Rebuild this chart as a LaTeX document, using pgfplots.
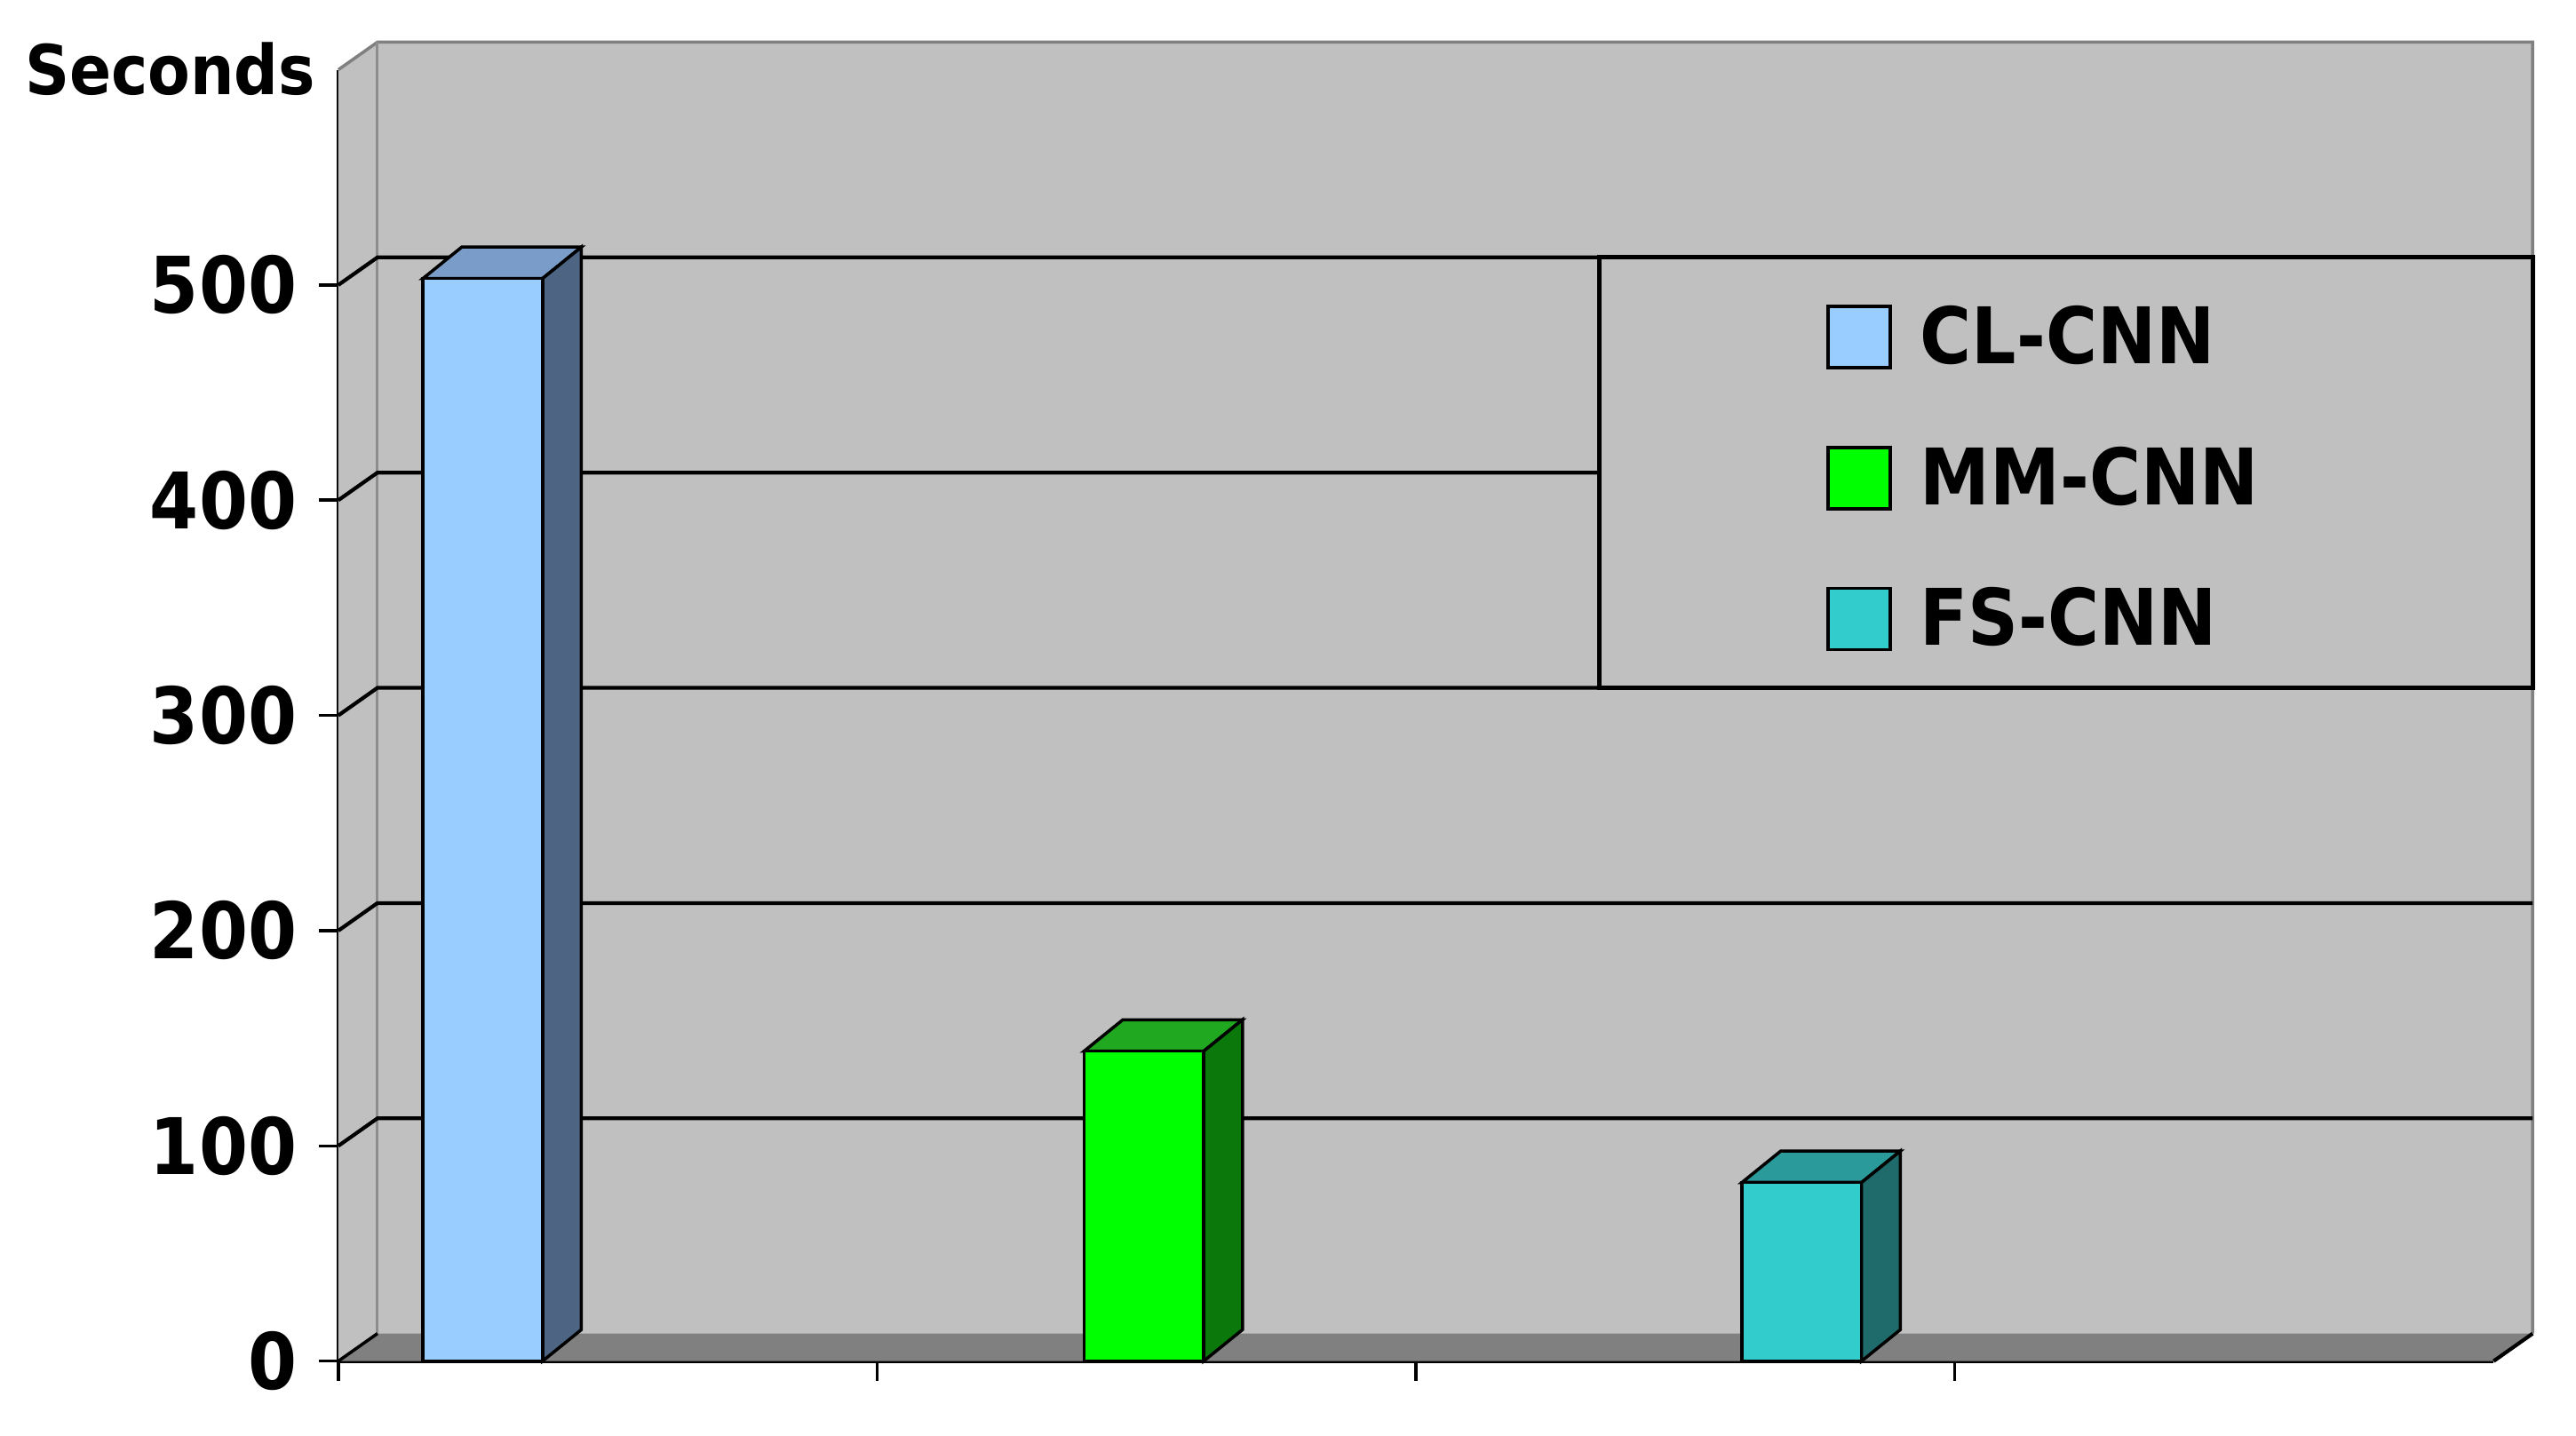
\documentclass[border=0pt]{standalone}
\usepackage{fontspec}
\setmainfont{DejaVu Sans}[FakeStretch=0.9]
\usepackage{pgfplots}
\pgfplotsset{compat=1.18}
\definecolor{wall}{HTML}{C0C0C0}
\definecolor{floorc}{HTML}{808080}
\definecolor{clfront}{HTML}{99CCFF}
\definecolor{cltop}{HTML}{7A9CC8}
\definecolor{clside}{HTML}{4D6482}
\definecolor{mmfront}{HTML}{00FF00}
\definecolor{mmtop}{HTML}{20A820}
\definecolor{mmside}{HTML}{0A780A}
\definecolor{fsfront}{HTML}{33CCCC}
\definecolor{fstop}{HTML}{2A9A9A}
\definecolor{fsside}{HTML}{1F6B6B}
\pgfplotsset{sqlegend/.style={legend image code/.code={\draw[##1,line width=0.5pt] (0mm,-1.6mm) rectangle (3.5mm,1.85mm);}}}
\begin{document}
\begin{tikzpicture}
\begin{axis}[
  scale only axis, width=12.13cm, height=7.27cm,
  xmin=0, xmax=4, ymin=0, ymax=600, clip=false,
  axis x line*=bottom, axis y line*=left,
  axis line style={black, line width=0.6pt},
  xtick={0,1,2,3}, xticklabels={},
  ytick={0,100,200,300,400,500},
  tick align=outside, major tick length=1.1mm,
  tick style={black, line width=0.5pt},
  yticklabel style={font=\fontsize{12.5}{15}\selectfont\bfseries},
  /pgf/number format/assume math mode=true,
  legend cell align=left,
  legend style={at={(axis cs:2.762,409.4)}, anchor=west, draw=none, fill=none,
    inner sep=0pt, outer sep=0pt, row sep=4.1mm, column sep=1.6mm,
    nodes={inner sep=0pt, outer sep=0pt, font=\fontsize{12.5}{15}\selectfont\bfseries}},
]
% walls
\fill[wall] (axis cs:0.0725,12.8) rectangle (axis cs:4.0725,612.8);
\fill[wall] (axis cs:0,0) -- (axis cs:0.0725,12.8) -- (axis cs:0.0725,612.8) -- (axis cs:0,600) -- cycle;
\draw[floorc, line width=0.5pt] (axis cs:0,600) -- (axis cs:0.0725,612.8) -- (axis cs:4.0725,612.8) -- (axis cs:4.0725,12.8);
\draw[floorc!80!wall, line width=0.4pt] (axis cs:0.0725,12.8) -- (axis cs:0.0725,612.8);
\fill[floorc] (axis cs:0,0) -- (axis cs:4,0) -- (axis cs:4.0725,12.8) -- (axis cs:0.0725,12.8) -- cycle;
\draw[black, line width=0.6pt] (axis cs:4,0) -- (axis cs:4.0725,12.8);
% gridlines
\draw[black, line width=0.6pt] (axis cs:0,100) -- (axis cs:0.0725,112.8) -- (axis cs:4.0725,112.8);
\draw[black, line width=0.6pt] (axis cs:0,200) -- (axis cs:0.0725,212.8) -- (axis cs:4.0725,212.8);
\draw[black, line width=0.6pt] (axis cs:0,300) -- (axis cs:0.0725,312.8) -- (axis cs:4.0725,312.8);
\draw[black, line width=0.6pt] (axis cs:0,400) -- (axis cs:0.0725,412.8) -- (axis cs:4.0725,412.8);
\draw[black, line width=0.6pt] (axis cs:0,500) -- (axis cs:0.0725,512.8) -- (axis cs:4.0725,512.8);
\draw[black, line width=0.5pt] (axis cs:0,0) -- (axis cs:0.0725,12.8);
% legend box
\filldraw[fill=wall, draw=black, line width=0.7pt] (axis cs:2.341,312.8) rectangle (axis cs:4.0725,512.8);

% CL-CNN
\addplot[fill=cltop, draw=black, line width=0.5pt, forget plot] coordinates {(0.157,503) (0.229,517.6) (0.451,517.6) (0.379,503)} -- cycle;
\addplot[fill=clside, draw=black, line width=0.5pt, forget plot] coordinates {(0.379,0) (0.451,14.6) (0.451,517.6) (0.379,503)} -- cycle;
\addplot[ybar, bar width=0.222, bar shift=0pt, fill=clfront, draw=black, line width=0.5pt, sqlegend] coordinates {(0.268,503)};
\addlegendentry{CL-CNN}
% MM-CNN
\addplot[fill=mmtop, draw=black, line width=0.5pt, forget plot] coordinates {(1.384,144) (1.456,158.6) (1.678,158.6) (1.606,144)} -- cycle;
\addplot[fill=mmside, draw=black, line width=0.5pt, forget plot] coordinates {(1.606,0) (1.678,14.6) (1.678,158.6) (1.606,144)} -- cycle;
\addplot[ybar, bar width=0.222, bar shift=0pt, fill=mmfront, draw=black, line width=0.5pt, sqlegend] coordinates {(1.495,144)};
\addlegendentry{MM-CNN}
% FS-CNN
\addplot[fill=fstop, draw=black, line width=0.5pt, forget plot] coordinates {(2.605,83) (2.677,97.6) (2.899,97.6) (2.827,83)} -- cycle;
\addplot[fill=fsside, draw=black, line width=0.5pt, forget plot] coordinates {(2.827,0) (2.899,14.6) (2.899,97.6) (2.827,83)} -- cycle;
\addplot[ybar, bar width=0.222, bar shift=0pt, fill=fsfront, draw=black, line width=0.5pt, sqlegend] coordinates {(2.716,83)};
\addlegendentry{FS-CNN}

\node[anchor=base east, inner sep=0pt, font=\fontsize{11}{13}\selectfont\bfseries] at (axis cs:-0.04,588.3) {Seconds};
\coordinate (bbll) at (axis cs:-0.628,-34.65);
\coordinate (bbur) at (axis cs:4.153,632.4);
\end{axis}
\pgfresetboundingbox
\path[use as bounding box] (bbll) rectangle (bbur);
\end{tikzpicture}
\end{document}
